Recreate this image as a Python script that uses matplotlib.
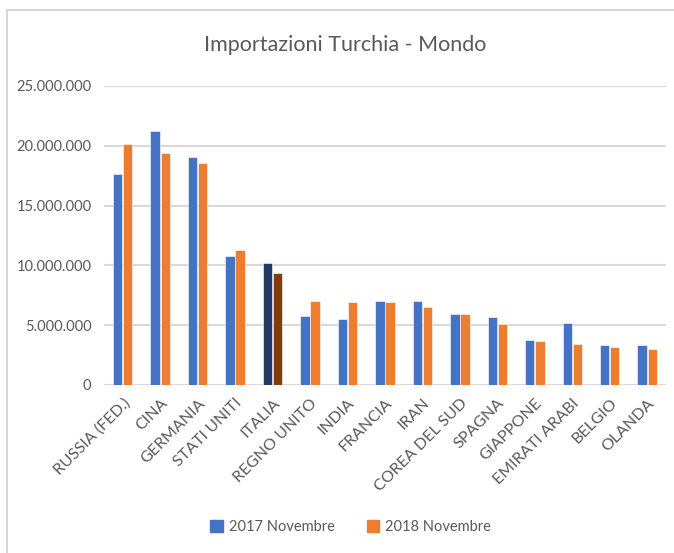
import numpy as np
import matplotlib.pyplot as plt
from matplotlib.ticker import FuncFormatter
from matplotlib.lines import Line2D
from matplotlib.patches import Patch

plt.rcParams['font.family'] = ['Lato', 'DejaVu Sans']

# data
paesi = ['RUSSIA (FED.)', 'CINA', 'GERMANIA', 'STATI UNITI', 'ITALIA',
         'REGNO UNITO', 'INDIA', 'FRANCIA', 'IRAN', 'COREA DEL SUD',
         'SPAGNA', 'GIAPPONE', 'EMIRATI ARABI', 'BELGIO', 'OLANDA']
nov_2017 = [17600000, 21200000, 19100000, 10750000, 10200000,
            5750000, 5500000, 7050000, 7000000, 5900000,
            5650000, 3780000, 5170000, 3370000, 3370000]
nov_2018 = [20150000, 19400000, 18600000, 11300000, 9350000,
            7000000, 6970000, 6920000, 6500000, 5900000,
            5100000, 3700000, 3450000, 3200000, 3050000]
serie = ['2017 Novembre', '2018 Novembre']
yticks = [0, 5000000, 10000000, 15000000, 20000000, 25000000]

blu = '#4472C4'
arancio = '#ED7D31'
col17 = [blu] * len(paesi)
col18 = [arancio] * len(paesi)
col17[paesi.index('ITALIA')] = '#203864'
col18[paesi.index('ITALIA')] = '#843C0C'

fig = plt.figure(figsize=(6.74, 5.53), dpi=100)
ax = fig.add_axes([0.1543, 0.3038, 0.8337, 0.5407])

x = np.arange(len(paesi))
w = 0.25
ax.bar(x - w/2 - 0.01, nov_2017, w, color=col17, edgecolor='white', linewidth=0.4, zorder=3)
ax.bar(x + w/2 + 0.01, nov_2018, w, color=col18, edgecolor='white', linewidth=0.4, zorder=3)

ax.set_xlim(-0.5, len(paesi) - 0.5)
ax.set_ylim(0, 25000000)
ax.set_yticks(yticks)
ax.yaxis.set_major_formatter(FuncFormatter(lambda v, p: f"{v:,.0f}".replace(',', '.')))
ax.grid(axis='y', color='#d9d9d9', linewidth=1.5, zorder=0)
ax.set_axisbelow(True)
for s in ax.spines.values():
    s.set_visible(False)
ax.tick_params(axis='both', length=0, colors='#595959')
ax.tick_params(axis='y', pad=9, labelsize=10.5)
ax.set_xticks(x)
ax.set_xticklabels(paesi, rotation=45, ha='right', rotation_mode='anchor', fontsize=11.5)
ax.tick_params(axis='x', pad=8)

fig.text(0.512, 0.918, 'Importazioni Turchia - Mondo', ha='center', va='center',
         fontsize=15.5, color='#595959')

handles = [Patch(color=blu), Patch(color=arancio)]
fig.legend(handles, serie, loc='center', bbox_to_anchor=(0.52, 0.047), ncol=2,
           frameon=False, fontsize=10.5, handlelength=0.85, handleheight=0.85,
           columnspacing=2.2, handletextpad=0.4, labelcolor='#595959')

# frame lines top and left
fig.add_artist(Line2D([0.0105, 1.0], [0.982, 0.982], color='#d0d0d0', linewidth=1.2))
fig.add_artist(Line2D([0.0105, 0.0105], [0.0, 0.982], color='#d0d0d0', linewidth=1.2))

fig.savefig('out.png', dpi=100)
